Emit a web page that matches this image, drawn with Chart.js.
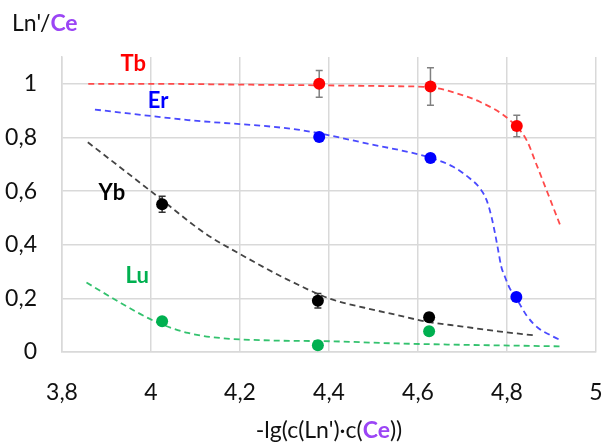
<!DOCTYPE html>
<html><head><meta charset="utf-8">
<script src="https://cdn.jsdelivr.net/npm/chart.js@4"></script>
<style>html,body{margin:0;padding:0;background:#fff;}#wrap{width:603px;height:445px;position:relative;}</style>
</head><body><div id="wrap"><canvas id="c" width="603" height="445"></canvas></div>
<script>
// measured points
const tbX = [4.378, 4.628, 4.822];
const tbY = [1.0, 0.99, 0.843];
const tbErr = [0.05, 0.07, 0.04];
const erX = [4.378, 4.628, 4.821];
const erY = [0.802, 0.723, 0.205];
const ybX = [4.025, 4.375, 4.625];
const ybY = [0.551, 0.191, 0.13];
const ybErr = [0.03, 0.027, 0.015];
const luX = [4.025, 4.375, 4.625];
const luY = [0.115, 0.025, 0.077];
// fitted curves
const tbCurveX = [3.859, 4.0, 4.2, 4.4, 4.55, 4.63, 4.686, 4.739, 4.806, 4.844, 4.866, 4.892, 4.922];
const tbCurveY = [1.0, 1.0, 0.997, 0.994, 0.991, 0.987, 0.965, 0.933, 0.865, 0.79, 0.70, 0.59, 0.462];
const erCurveX = [3.874, 4.083, 4.334, 4.484, 4.628, 4.679, 4.716, 4.739, 4.754, 4.765, 4.773, 4.78, 4.787, 4.795, 4.806, 4.821, 4.844, 4.858, 4.873, 4.896, 4.918];
const erCurveY = [0.904, 0.865, 0.828, 0.778, 0.724, 0.691, 0.648, 0.611, 0.567, 0.505, 0.443, 0.381, 0.319, 0.282, 0.238, 0.20, 0.136, 0.108, 0.086, 0.064, 0.046];
const ybCurveX = [3.858, 4.001, 4.121, 4.196, 4.308, 4.405, 4.48, 4.55, 4.617, 4.7, 4.78, 4.862];
const ybCurveY = [0.782, 0.598, 0.443, 0.369, 0.269, 0.197, 0.165, 0.139, 0.114, 0.095, 0.077, 0.062];
const luCurveX = [3.855, 3.933, 4.009, 4.083, 4.158, 4.27, 4.405, 4.55, 4.918];
const luCurveY = [0.259, 0.182, 0.114, 0.071, 0.052, 0.043, 0.04, 0.032, 0.021];
// series labels
const seriesNames = ['Tb', 'Er', 'Yb', 'Lu'];
const seriesLabelX = [3.96, 4.016, 3.912, 3.969];
const seriesLabelY = [1.074, 0.936, 0.594, 0.284];
// axis ticks
const xTicks = [3.8, 4.0, 4.2, 4.4, 4.6, 4.8, 5.0];
const yTicks = [0, 0.2, 0.4, 0.6, 0.8, 1.0];

const ptColors = ['#ff0000', '#0000ff', '#000000', '#00b050'];
const lineColors = ['#ff4a4a', '#4a4aff', '#444444', '#33c26e'];
const errColors = ['#808080', null, '#333333', null];

const zip = (xs, ys) => xs.map((x, i) => ({x: x, y: ys[i]}));
const curves = [[tbCurveX, tbCurveY], [erCurveX, erCurveY], [ybCurveX, ybCurveY], [luCurveX, luCurveY]];
const pts = [[tbX, tbY, tbErr], [erX, erY, null], [ybX, ybY, ybErr], [luX, luY, null]];

const datasets = [];
curves.forEach((c, i) => datasets.push({
  type: 'line', data: zip(c[0], c[1]), borderColor: lineColors[i], borderWidth: 1.8,
  borderDash: [6, 4], pointRadius: 0, fill: false, cubicInterpolationMode: 'monotone', order: 2
}));
pts.forEach((p, i) => datasets.push({
  type: 'scatter', data: zip(p[0], p[1]), backgroundColor: ptColors[i], borderColor: ptColors[i],
  pointRadius: 6, pointBorderWidth: 0, order: 1, errs: p[2], errColor: errColors[i]
}));

const fmt = v => { const r = Math.round(v * 10) / 10; return String(r).replace('.', ','); };

const errPlugin = {
  id: 'errbars',
  beforeDatasetsDraw(chart) {
    const ctx = chart.ctx, xs = chart.scales.x, ys = chart.scales.y;
    chart.data.datasets.forEach(ds => {
      if (!ds.errs) return;
      ctx.save(); ctx.strokeStyle = ds.errColor; ctx.lineWidth = 1.5;
      ds.data.forEach((d, i) => {
        const px = xs.getPixelForValue(d.x);
        const t = ys.getPixelForValue(d.y + ds.errs[i]), b = ys.getPixelForValue(d.y - ds.errs[i]);
        ctx.beginPath();
        ctx.moveTo(px, t); ctx.lineTo(px, b);
        ctx.moveTo(px - 3.5, t); ctx.lineTo(px + 3.5, t);
        ctx.moveTo(px - 3.5, b); ctx.lineTo(px + 3.5, b);
        ctx.stroke();
      });
      ctx.restore();
    });
  }
};

function drawRich(ctx, parts, x, y, align) {
  let total = 0;
  parts.forEach(p => { ctx.font = p.font; total += ctx.measureText(p.t).width; });
  let cx = align === 'center' ? x - total / 2 : x;
  ctx.textAlign = 'left'; ctx.textBaseline = 'middle';
  parts.forEach(p => { ctx.font = p.font; ctx.fillStyle = p.c; ctx.fillText(p.t, cx, y); cx += ctx.measureText(p.t).width; });
}

const textPlugin = {
  id: 'texts',
  afterDraw(chart) {
    const ctx = chart.ctx, xs = chart.scales.x, ys = chart.scales.y;
    ctx.save();
    seriesNames.forEach((n, i) => {
      ctx.font = 'bold 22px Lato'; ctx.fillStyle = ptColors[i];
      ctx.textAlign = 'center'; ctx.textBaseline = 'middle';
      ctx.fillText(n, xs.getPixelForValue(seriesLabelX[i]), ys.getPixelForValue(seriesLabelY[i]));
    });
    const purple = '#9b45f5';
    drawRich(ctx, [{t: "Ln'/", font: '23px Lato', c: '#111'}, {t: 'Ce', font: 'bold 23px Lato', c: purple}], 12, 24, 'left');
    const cxm = (chart.chartArea.left + chart.chartArea.right) / 2;
    drawRich(ctx, [{t: "-lg(c(Ln')\u00b7c(", font: '23px Lato', c: '#111'}, {t: 'Ce', font: 'bold 23px Lato', c: purple}, {t: '))', font: '23px Lato', c: '#111'}], cxm, 431, 'center');
    ctx.restore();
  }
};

new Chart(document.getElementById('c'), {
  data: {datasets: datasets},
  options: {
    responsive: false, animation: false, events: [],
    layout: {padding: {top: 57, right: 7, left: 0, bottom: 0}},
    plugins: {legend: {display: false}, tooltip: {enabled: false}},
    scales: {
      x: {
        type: 'linear', min: xTicks[0], max: xTicks[xTicks.length - 1],
        afterBuildTicks: s => { s.ticks = xTicks.map(v => ({value: v})); },
        afterFit: s => { s.height = 93; s.paddingLeft = 0; s.paddingRight = 0; },
        grid: {color: '#d9d9d9', lineWidth: 1.5, drawTicks: false},
        border: {color: '#d9d9d9', width: 1.5},
        ticks: {padding: 27, color: '#111', font: {family: 'Lato', size: 23}, callback: v => fmt(v), maxRotation: 0, autoSkip: false}
      },
      y: {
        type: 'linear', min: 0, max: 1.1,
        afterBuildTicks: s => { s.ticks = yTicks.map(v => ({value: v})); },
        afterFit: s => { s.width = 62; s.paddingTop = 0; s.paddingBottom = 0; },
        grid: {color: '#d9d9d9', lineWidth: 1.5, drawTicks: false},
        border: {color: '#d9d9d9', width: 1.5},
        ticks: {padding: 25, color: '#111', font: {family: 'Lato', size: 23}, callback: v => fmt(v), autoSkip: false}
      }
    }
  },
  plugins: [errPlugin, textPlugin]
});
</script></body></html>
